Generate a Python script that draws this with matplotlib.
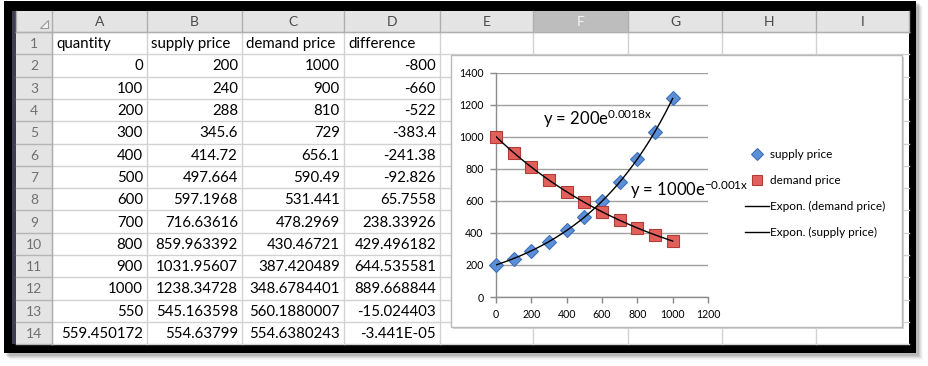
import numpy as np
import matplotlib
matplotlib.use("Agg")
import matplotlib.pyplot as plt
from matplotlib.patches import Rectangle, Polygon

plt.rcParams['font.family'] = ['Lato', 'DejaVu Sans']
plt.rcParams['mathtext.fontset'] = 'custom'
plt.rcParams['mathtext.rm'] = 'Lato'
plt.rcParams['mathtext.it'] = 'Lato:italic'
plt.rcParams['mathtext.default'] = 'regular'

# ---------------- data ----------------
col_letters = ['A', 'B', 'C', 'D', 'E', 'F', 'G', 'H', 'I']
row_numbers = [str(i) for i in range(1, 15)]
header_labels = ['quantity', 'supply price', 'demand price', 'difference']
quantity_text = ['0', '100', '200', '300', '400', '500', '600', '700', '800', '900',
                 '1000', '550', '559.450172']
supply_text = ['200', '240', '288', '345.6', '414.72', '497.664', '597.1968', '716.63616',
               '859.963392', '1031.95607', '1238.34728', '545.163598', '554.63799']
demand_text = ['1000', '900', '810', '729', '656.1', '590.49', '531.441', '478.2969',
               '430.46721', '387.420489', '348.6784401', '560.1880007', '554.6380243']
difference_text = ['-800', '-660', '-522', '-383.4', '-241.38', '-92.826', '65.7558',
                   '238.33926', '429.496182', '644.535581', '889.668844', '-15.024403',
                   '-3.441E-05']

quantity = [0, 100, 200, 300, 400, 500, 600, 700, 800, 900, 1000]
supply_price = [200, 240, 288, 345.6, 414.72, 497.664, 597.1968, 716.63616,
                859.963392, 1031.95607, 1238.34728]
demand_price = [1000, 900, 810, 729, 656.1, 590.49, 531.441, 478.2969,
                430.46721, 387.420489, 348.6784401]
series_labels = ['supply price', 'demand price', 'Expon. (demand price)', 'Expon. (supply price)']
supply_eq = 'y = 200e$^{0.0018x}$'
demand_eq = 'y = 1000e$^{-0.001x}$'
x_ticks = [0, 200, 400, 600, 800, 1000, 1200]
y_ticks = [0, 200, 400, 600, 800, 1000, 1200, 1400]

# ---------------- layout (pixels) ----------------
W, H = 929, 366
col_edges = [16, 52, 147, 242, 344, 440, 533, 628, 722, 816, 909]
head_top, head_bot = 11, 32
row_h = 22.3
sheet_bot = head_bot + 14 * row_h

fig = plt.figure(figsize=(W / 100, H / 100), dpi=100)
fig.patch.set_facecolor('white')
bg = fig.add_axes([0, 0, 1, 1])
bg.set_xlim(0, W)
bg.set_ylim(H, 0)
bg.axis('off')

# drop shadow of frame
for i, a in enumerate([0.10, 0.08, 0.06, 0.04, 0.03]):
    bg.add_patch(Rectangle((6 + i, 3 + i), 913, 353, fc='black', ec='none', alpha=a, zorder=0))
# black frame
bg.add_patch(Rectangle((4, 1), 912, 352, fc='black', ec='none', zorder=1))
bg.add_patch(Rectangle((12, 11), 4, sheet_bot - 11, fc='#3E3E52', ec='none', zorder=2))
# sheet
bg.add_patch(Rectangle((16, head_top), 893, sheet_bot - head_top, fc='white', ec='none', zorder=2))
# header row
bg.add_patch(Rectangle((16, head_top), 893, head_bot - head_top, fc='#E4E4E4', ec='none', zorder=3))
bg.add_patch(Rectangle((col_edges[6], head_top), col_edges[7] - col_edges[6], head_bot - head_top,
                       fc='#BDBDBD', ec='none', zorder=3))
# row header column
bg.add_patch(Rectangle((16, head_bot), 36, sheet_bot - head_bot, fc='#E4E4E4', ec='none', zorder=3))

# grid lines of cells
for k in range(15):
    y = head_bot + k * row_h
    bg.plot([52, 909], [y, y], color='#D2D2D2', lw=1, zorder=3)
    bg.plot([16, 52], [y, y], color='#B4B4B4', lw=1, zorder=4)
for x in col_edges[1:-1]:
    bg.plot([x, x], [head_bot, sheet_bot], color='#D2D2D2', lw=1, zorder=3)
for x in col_edges:
    bg.plot([x, x], [head_top, head_bot], color='#AFAFAF', lw=1, zorder=4)
bg.plot([16, 909], [head_bot, head_bot], color='#AFAFAF', lw=1, zorder=4)
bg.plot([52, 52], [head_bot, sheet_bot], color='#AFAFAF', lw=1, zorder=4)
# corner triangle
bg.add_patch(Polygon([[40, 28], [48, 28], [48, 20]], closed=True, fc='#F4F4F4', ec='#9A9A9A',
                     lw=0.8, zorder=5))

# column letters
for i, c in enumerate(col_letters):
    xc = (col_edges[i + 1] + col_edges[i + 2]) / 2
    bg.text(xc, (head_top + head_bot) / 2 + 1, c, ha='center', va='center', fontsize=10,
            color='#F4F4F4' if c == 'F' else '#4A4A4A', zorder=6)
# row numbers
for k, r in enumerate(row_numbers):
    yc = head_bot + (k + 0.5) * row_h
    bg.text(34, yc + 1, r, ha='center', va='center', fontsize=10, color='#707070', zorder=6)

# header labels
fs = 10.8
for i, lab in enumerate(header_labels):
    bg.text(col_edges[i + 1] + 4, head_bot + 0.5 * row_h + 1, lab, ha='left', va='center',
            fontsize=fs, color='black', zorder=6)
# values
for j, col in enumerate([quantity_text, supply_text, demand_text, difference_text]):
    for k, s in enumerate(col):
        yc = head_bot + (k + 1.5) * row_h
        bg.text(col_edges[j + 2] - 4, yc + 1, s, ha='right', va='center', fontsize=fs,
                color='black', zorder=6)

# chart box
bg.add_patch(Rectangle((453, 57), 451, 272, fc='#D6D6D6', ec='none', zorder=7))
bg.add_patch(Rectangle((451, 55), 451, 272, fc='white', ec='#B8B8B8', lw=1, zorder=8))

# ---------------- chart ----------------
ax_l, ax_r, ax_t, ax_b = 496, 708, 72.5, 297
ax = fig.add_axes([ax_l / W, 1 - ax_b / H, (ax_r - ax_l) / W, (ax_b - ax_t) / H])
ax.set_facecolor('none')
ax.set_zorder(10)
ax.set_xlim(0, 1200)
ax.set_ylim(0, 1400)
ax.set_xticks(x_ticks)
ax.set_yticks(y_ticks)
ax.tick_params(axis='both', labelsize=7.6, colors='#888888', labelcolor='black', length=4,
               width=1, pad=5)
for s in ['top', 'right']:
    ax.spines[s].set_visible(False)
for s in ['left', 'bottom']:
    ax.spines[s].set_color('#8C8C8C')
    ax.spines[s].set_linewidth(1)
ax.grid(axis='y', color='#A0A0A0', lw=1)
ax.set_axisbelow(True)

h_sup, = ax.plot(quantity, supply_price, ls='none', marker='D', ms=7.2, mfc='#5B8FD8',
                 mec='#3F70B8', mew=0.8, zorder=3, clip_on=False)
h_dem, = ax.plot(quantity, demand_price, ls='none', marker='s', ms=8.8, mfc='#E2605C',
                 mec='#B03C38', mew=0.8, zorder=3, clip_on=False)

q = np.array(quantity, dtype=float)
xs = np.linspace(q.min(), q.max(), 200)
bs, as_ = np.polyfit(q, np.log(supply_price), 1)
bd, ad = np.polyfit(q, np.log(demand_price), 1)
h_td, = ax.plot(xs, np.exp(ad + bd * xs), color='black', lw=1, zorder=4)
h_ts, = ax.plot(xs, np.exp(as_ + bs * xs), color='black', lw=1, zorder=4)

ax.text(266, 1114, supply_eq, ha='left', va='center', fontsize=12, color='black', zorder=5)
ax.text(758, 666, demand_eq, ha='left', va='center', fontsize=12, color='black', zorder=5,
        clip_on=False)

leg = ax.legend([h_sup, h_dem, h_td, h_ts], series_labels, loc='center left',
                bbox_to_anchor=(745 / W, 1 - 193.5 / H), bbox_transform=fig.transFigure,
                frameon=False, fontsize=8.5, handlelength=2.0, handletextpad=0.15,
                labelspacing=1.25, borderpad=0, borderaxespad=0, markerscale=0.85)

fig.savefig('out.png', dpi=100)
